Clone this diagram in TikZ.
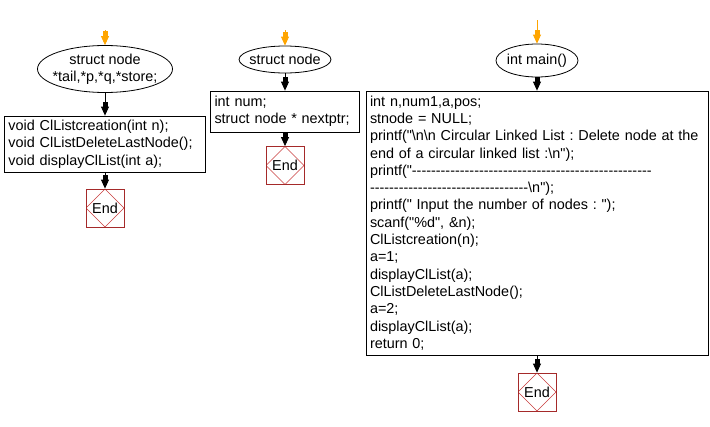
\documentclass[tikz,border=0pt]{standalone}
\usepackage{fontspec}
\setmainfont{Liberation Sans}[Ligatures=TeXOff]
\usepackage{xcolor}
\usepackage{tikz}
\usetikzlibrary{shapes.geometric, arrows.meta}
\frenchspacing

\definecolor{startorange}{RGB}{255,165,0}
\definecolor{endred}{RGB}{165,42,42}
\definecolor{diamondred}{RGB}{200,60,60}
\newcommand{\bsl}{\textbackslash}

\tikzset{
	every node/.style={font=\fontsize{14.4}{17.3}\selectfont},
	oval/.style={draw, ellipse, line width=0.8pt, inner sep=-15pt, align=center},
	codebox/.style={draw, rectangle, line width=0.8pt, align=left, inner xsep=4pt, inner ysep=0pt},
	endbox/.style={draw=endred, line width=0.8pt, minimum width=38pt, minimum height=38pt, inner sep=0pt,
		path picture={\draw[diamondred, line width=0.5pt] (path picture bounding box.north) -- (path picture bounding box.east) -- (path picture bounding box.south) -- (path picture bounding box.west) -- cycle;}},
	flow/.style={line width=0.8pt, -{Rectangle[length=5pt,width=5pt,sep=0pt]Triangle[length=9pt,width=8pt]}}
}

\begin{document}
\begin{tikzpicture}[x=1pt, y=-1pt]
			\useasboundingbox (0,0) rectangle (710,426);
			
			\coordinate (s1) at (105,30);
			\coordinate (s2) at (285,30);
			\coordinate (s3) at (537,20);
			
			\node[oval, minimum width=135pt, minimum height=47pt] (hdr1) at (105,69) {struct node\\*tail,*p,*q,*store;};
			\node[oval, minimum width=92pt, minimum height=27pt] (hdr2) at (285,59.5) {struct node};
			\node[oval, minimum width=82pt, minimum height=33pt] (hdr3) at (537,60.5) {int main()};
			
			\node[codebox, text width=193pt, minimum height=56pt] (decl1) at (105,144) {void ClListcreation(int n);\\void ClListDeleteLastNode();\\void displayClList(int a);};
			\node[codebox, text width=141pt, minimum height=41pt] (decl2) at (285,111.5) {int num;\\struct node * nextptr;};
			\node[codebox, text width=334pt, minimum height=264pt] (body3) at (537,223) {int n,num1,a,pos;\\
				stnode = NULL;\\
				printf("\bsl n\bsl n Circular Linked List : Delete node at the\\
				end of a circular linked list :\bsl n");\\
				printf("--------------------------------------------------\\
				---------------------------------\bsl n");\\
				printf(" Input the number of nodes : ");\\
				scanf("\%d", \&n);\\
				ClListcreation(n);\\
				a=1;\\
				displayClList(a);\\
				ClListDeleteLastNode();\\
				a=2;\\
				displayClList(a);\\
				return 0;};
			
			\foreach \x/\y/\name in {
				105/208/end1,
				285/165.5/end2,
				537/392/end3}{
				\node[endbox] (\name) at (\x,\y) {End};
			}
			
			\draw[flow, startorange] (s1) -- (hdr1);
			\draw[flow, startorange] (s2) -- (hdr2);
			\draw[flow, startorange] (s3) -- (hdr3);
			\draw[flow] (hdr1) -- (decl1);
			\draw[flow] (hdr2) -- (decl2);
			\draw[flow] (hdr3) -- (body3);
			\draw[flow] (decl1) -- (end1);
			\draw[flow] (decl2) -- (end2);
			\draw[flow] (body3) -- (end3);
		\end{tikzpicture}
\end{document}
